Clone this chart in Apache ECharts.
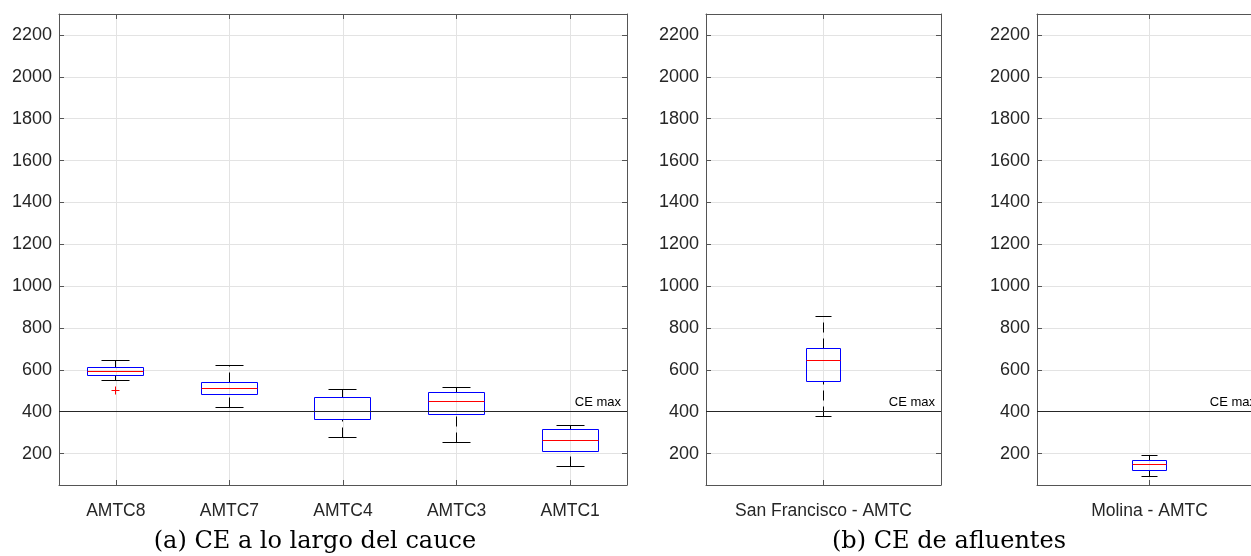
<!DOCTYPE html>
<html><head><meta charset="utf-8">
<script src="https://cdn.jsdelivr.net/npm/echarts@6/dist/echarts.min.js"></script>
<style>html,body{margin:0;padding:0;background:#fff;overflow:hidden}#c{width:1275px;height:556px}</style>
</head><body><div id="c"></div>
<script>
// ---- data ----
const catsA = ['AMTC8', 'AMTC7', 'AMTC4', 'AMTC3', 'AMTC1'];
const lowA  = [550, 421, 279, 253, 139];
const q1A   = [571, 483, 363, 389, 212];
const medA  = [590, 513, 401, 449, 261];
const q3A   = [613, 542, 468, 494, 314];
const highA = [645, 620, 508, 518, 335];
const outlierCatA = ['AMTC8'];
const outlierValA = [500];

const catsB1 = ['San Francisco - AMTC'];
const lowB1 = [375], q1B1 = [545], medB1 = [646], q3B1 = [700], highB1 = [854];

const catsB2 = ['Molina - AMTC'];
const lowB2 = [90], q1B2 = [119], medB2 = [150], q3B2 = [165], highB2 = [189];

const ceMax = 400;
const ceLabel = 'CE max';
const yTicks = [200, 400, 600, 800, 1000, 1200, 1400, 1600, 1800, 2000, 2200];
const captions = ['(a) CE a lo largo del cauce', '(b) CE de afluentes'];

// ---- helpers ----
const AX = '#555555', TXT = '#262626', GRID = '#e3e3e3';
const snap = v => Math.round(v - 0.5) + 0.5;

function rows(cats, lo, q1, med, q3, hi) {
  return cats.map((c, i) => [i + 1, lo[i], q1[i], med[i], q3[i], hi[i]]);
}

function boxRender(boxW, capW) {
  return function (params, api) {
    const x = api.value(0);
    const pLo = api.coord([x, api.value(1)]);
    const pQ1 = api.coord([x, api.value(2)]);
    const pMed = api.coord([x, api.value(3)]);
    const pQ3 = api.coord([x, api.value(4)]);
    const pHi = api.coord([x, api.value(5)]);
    const cx = snap(pLo[0]);
    const hb = api.size([boxW, 0])[0] / 2;
    const hc = api.size([capW, 0])[0] / 2;
    const yLo = snap(pLo[1]), yQ1 = snap(pQ1[1]), yMed = snap(pMed[1]), yQ3 = snap(pQ3[1]), yHi = snap(pHi[1]);
    const bl = snap(cx - hb), br = snap(cx + hb), cl = snap(cx - hc), cr = snap(cx + hc);
    const dash = { stroke: '#000', lineWidth: 1, lineDash: [10, 6] };
    const solid = { stroke: '#000', lineWidth: 1 };
    return {
      type: 'group', children: [
        { type: 'line', shape: { x1: cx, y1: yQ3, x2: cx, y2: yHi }, style: dash },
        { type: 'line', shape: { x1: cx, y1: yLo, x2: cx, y2: yQ1 }, style: dash },
        { type: 'line', shape: { x1: cl, y1: yHi, x2: cr, y2: yHi }, style: solid },
        { type: 'line', shape: { x1: cl, y1: yLo, x2: cr, y2: yLo }, style: solid },
        { type: 'rect', shape: { x: bl, y: yQ3, width: br - bl, height: yQ1 - yQ3 },
          style: { fill: 'none', stroke: '#0000ff', lineWidth: 1 } },
        { type: 'line', shape: { x1: bl, y1: yMed, x2: br, y2: yMed },
          style: { stroke: '#ff0000', lineWidth: 1 } }
      ]
    };
  };
}

function plusRender(params, api) {
  const p = api.coord([api.value(0), api.value(1)]);
  const px = snap(p[0]), py = snap(p[1]);
  const s = 4;
  const st = { stroke: '#ff0000', lineWidth: 1 };
  return { type: 'group', children: [
    { type: 'line', shape: { x1: px - s, y1: py, x2: px + s, y2: py }, style: st },
    { type: 'line', shape: { x1: px, y1: py - s, x2: px, y2: py + s }, style: st }
  ]};
}

function xAxes(gi, cats) {
  const vals = cats.map((c, i) => i + 1);
  const base = { type: 'value', gridIndex: gi, min: 0.5, max: cats.length + 0.5,
    axisLine: { show: true, onZero: false, lineStyle: { color: AX, width: 1 } } };
  return [
    Object.assign({}, base, { position: 'bottom',
      axisTick: { show: true, inside: true, length: 5, customValues: vals, lineStyle: { color: AX } },
      axisLabel: { show: true, customValues: vals, formatter: v => cats[Math.round(v) - 1] || '',
        fontSize: 17.5, color: TXT, margin: 17, fontFamily: 'Liberation Sans' },
      splitLine: { show: true, lineStyle: { color: GRID, width: 1 } } }),
    Object.assign({}, base, { position: 'top',
      axisTick: { show: true, inside: true, length: 5, customValues: vals, lineStyle: { color: AX } },
      axisLabel: { show: false }, splitLine: { show: false } })
  ];
}

function yAxes(gi) {
  const base = { type: 'value', gridIndex: gi, min: 50, max: 2300,
    axisLine: { show: true, onZero: false, lineStyle: { color: AX, width: 1 } } };
  return [
    Object.assign({}, base, { position: 'left',
      axisTick: { show: true, inside: true, length: 5, customValues: yTicks, lineStyle: { color: AX } },
      axisLabel: { show: true, customValues: yTicks, formatter: v => String(v), fontSize: 18, color: TXT,
        margin: 7, fontFamily: 'Liberation Sans' },
      splitLine: { show: true, lineStyle: { color: GRID, width: 1 } } }),
    Object.assign({}, base, { position: 'right',
      axisTick: { show: true, inside: true, length: 5, customValues: yTicks, lineStyle: { color: AX } },
      axisLabel: { show: false }, splitLine: { show: false } })
  ];
}

function ceSeries(ai) {
  return {
    type: 'line', xAxisIndex: ai, yAxisIndex: ai, data: [], z: 1, silent: true,
    markLine: {
      silent: true, symbol: ['none', 'none'], animation: false,
      lineStyle: { color: '#262626', width: 1, type: 'solid' },
      label: { show: true, formatter: ceLabel, position: 'insideEndTop', fontSize: 13,
        color: '#000', fontFamily: 'Liberation Sans', distance: [6, 3] },
      emphasis: { disabled: true },
      data: [{ yAxis: ceMax }]
    }
  };
}

const grids = [
  { left: 59, top: 14, width: 568, height: 471 },
  { left: 706, top: 14, width: 235, height: 471 },
  { left: 1037, top: 14, width: 225, height: 471 }
];

const xAxis = [].concat(xAxes(0, catsA), xAxes(1, catsB1), xAxes(2, catsB2));
const yAxis = [].concat(yAxes(0), yAxes(1), yAxes(2));

const series = [
  ceSeries(0), ceSeries(2), ceSeries(4),
  { type: 'custom', xAxisIndex: 0, yAxisIndex: 0, renderItem: boxRender(0.5, 0.25),
    encode: { x: 0, y: [1, 2, 3, 4, 5] }, data: rows(catsA, lowA, q1A, medA, q3A, highA), z: 3 },
  { type: 'custom', xAxisIndex: 0, yAxisIndex: 0, renderItem: plusRender,
    encode: { x: 0, y: 1 }, data: outlierCatA.map((c, i) => [catsA.indexOf(c) + 1, outlierValA[i]]), z: 3 },
  { type: 'custom', xAxisIndex: 2, yAxisIndex: 2, renderItem: boxRender(0.148, 0.068),
    encode: { x: 0, y: [1, 2, 3, 4, 5] }, data: rows(catsB1, lowB1, q1B1, medB1, q3B1, highB1), z: 3 },
  { type: 'custom', xAxisIndex: 4, yAxisIndex: 4, renderItem: boxRender(0.151, 0.074),
    encode: { x: 0, y: [1, 2, 3, 4, 5] }, data: rows(catsB2, lowB2, q1B2, medB2, q3B2, highB2), z: 3 }
];

const chart = echarts.init(document.getElementById('c'), null, { renderer: 'canvas' });
chart.setOption({
  animation: false,
  backgroundColor: '#ffffff',
  grid: grids,
  xAxis: xAxis,
  yAxis: yAxis,
  series: series,
  graphic: [
    { type: 'text', x: 315, y: 542, style: { text: captions[0], font: '24px "DejaVu Serif"', fill: '#000',
      align: 'center', verticalAlign: 'middle', textAlign: 'center', textVerticalAlign: 'middle' } },
    { type: 'text', x: 949, y: 542, style: { text: captions[1], font: '24px "DejaVu Serif"', fill: '#000',
      align: 'center', verticalAlign: 'middle', textAlign: 'center', textVerticalAlign: 'middle' } }
  ]
});
</script>
</body></html>
